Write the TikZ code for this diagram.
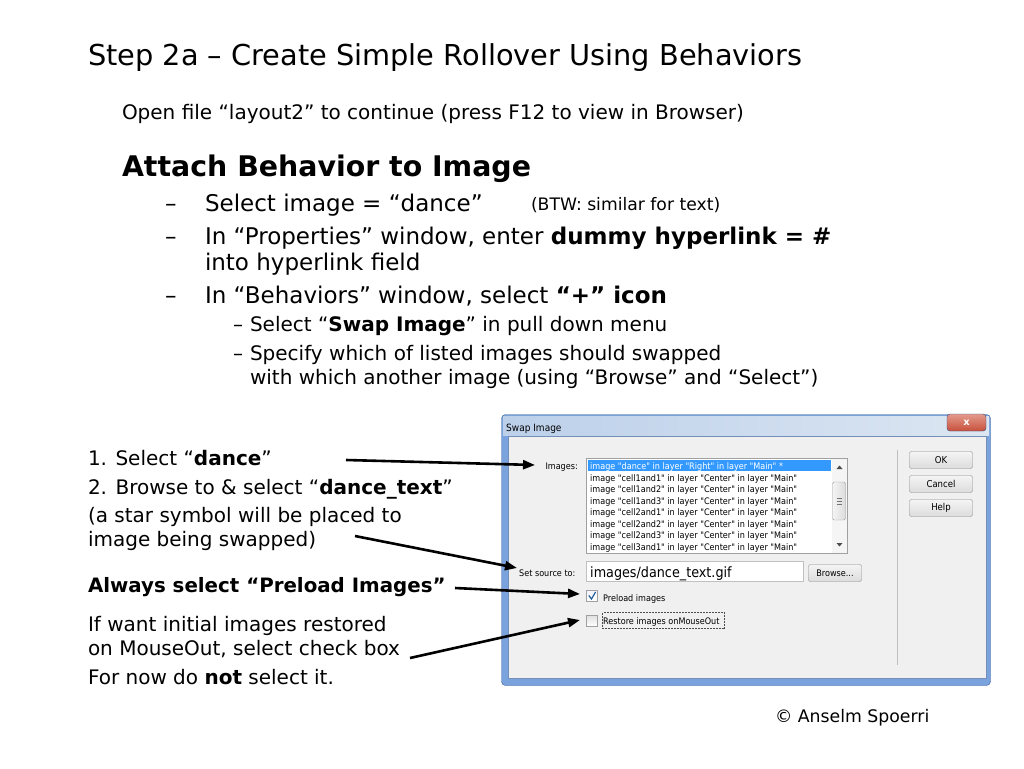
\documentclass[tikz,border=0pt]{standalone}
\usepackage{fontspec}
\setmainfont{DejaVu Sans}
\newfontfamily\condfont{DejaVu Sans Condensed}
\usetikzlibrary{arrows.meta}
\definecolor{framebl}{HTML}{7AA3DD}
\definecolor{frameedge}{HTML}{3A5F9A}
\definecolor{titlel}{HTML}{BCD0EA}
\definecolor{titler}{HTML}{DCE6F2}
\definecolor{clientbg}{HTML}{F0F0F0}
\definecolor{selblue}{HTML}{3399FF}
\definecolor{btnedge}{HTML}{8A8A8A}
\definecolor{btntop}{HTML}{F4F4F4}
\definecolor{btnbot}{HTML}{DCDCDC}
\definecolor{closered}{HTML}{C8503C}
\definecolor{closetop}{HTML}{E49A8C}
\definecolor{boxedge}{HTML}{A0A0A0}
\tikzset{
  txt/.style={anchor=base west, inner sep=0pt, outer sep=0pt},
  arr/.style={line width=2.6pt, -{Triangle[length=12pt,width=9pt]}},
  dlgtxt/.style={anchor=base west, inner sep=0pt, font=\condfont\fontsize{9}{10}\selectfont},
  dlgbtn/.style={draw=btnedge, rounded corners=2pt, top color=btntop, bottom color=btnbot},
  listrow/.style={anchor=base west, inner sep=0pt, font=\condfont\fontsize{9}{10}\selectfont},
}
\begin{document}
\begin{tikzpicture}[x=1pt,y=-1pt]
\useasboundingbox (0,0) rectangle (1024,768);
\fill[white] (0,0) rectangle (1024,768);

% ---------- slide text ----------
\node[txt, font=\fontsize{28.8}{32}\selectfont] (title) at (88,66) {Step 2a – Create Simple Rollover Using Behaviors};
\node[txt, font=\fontsize{20}{24}\selectfont] (open) at (122,119) {Open file “layout2” to continue (press F12 to view in Browser)};
\node[txt, font=\bfseries\fontsize{28.4}{32}\selectfont] (attach) at (122,176) {Attach Behavior to Image};

\begin{scope}[font=\fontsize{23}{27}\selectfont]
\node[txt] (d1) at (165,211) {–};
\node[txt] (b1) at (205,211) {Select image = “dance”};
\node[txt] (d2) at (165,244) {–};
\node[txt] (b2) at (205,244) {In “Properties” window, enter \textbf{dummy hyperlink = \#}};
\node[txt] (b2b) at (205,270) {into hyperlink field};
\node[txt] (d3) at (165,303) {–};
\node[txt] (b3) at (205,303) {In “Behaviors” window, select \textbf{“+” icon}};
\end{scope}
\node[txt, font=\fontsize{17.2}{20}\selectfont] (btw) at (531,210) {(BTW: similar for text)};
\begin{scope}[font=\fontsize{20}{24}\selectfont]
\node[txt] (s1d) at (233,331) {–};
\node[txt] (s1) at (250,331) {Select “\textbf{Swap Image}” in pull down menu};
\node[txt] (s2d) at (233,360) {–};
\node[txt] (s2) at (250,360) {Specify which of listed images should swapped};
\node[txt] (s2b) at (250,384) {with which another image (using “Browse” and “Select”)};
\end{scope}

\begin{scope}[font=\fontsize{20}{24}\selectfont]
\node[txt] (n1) at (88,465) {1. Select “\textbf{dance}”};
\node[txt] (n2) at (88,494) {2. Browse to \& select “\textbf{dance\_text}”};
\node[txt] (n3) at (88,522) {(a star symbol will be placed to};
\node[txt] (n3b) at (88,546) {image being swapped)};
\node[txt, font=\bfseries\fontsize{19.8}{24}\selectfont] (n4) at (88,592) {Always select “Preload Images”};
\node[txt] (n5) at (88,631) {If want initial images restored};
\node[txt] (n5b) at (88,655) {on MouseOut, select check box};
\node[txt] (n6) at (88,684) {For now do \textbf{not} select it.};
\end{scope}

\node[txt, font=\fontsize{17.3}{20}\selectfont] (copy) at (775,722) {© Anselm Spoerri};

% ---------- dialog ----------
\draw[fill=framebl, draw=frameedge, rounded corners=4pt] (501.5,414.5) rectangle (990.5,685.5);
\shade[left color=titlel, right color=titler] (503,416) rectangle (989,436);
\fill[framebl] (503,436) rectangle (508,684);
\fill[framebl] (986,436) rectangle (989,684);
\draw[fill=clientbg, draw=frameedge!70] (508,436.5) rectangle (986,678);
\node[dlgtxt, font=\condfont\fontsize{10}{12}\selectfont] (dtitle) at (506,431) {Swap Image};
% close button
\draw[draw=frameedge!80!black, rounded corners=3pt, top color=closetop, bottom color=closered] (947,414) rectangle (986,431) node[midway, text=white, font=\bfseries\fontsize{10}{10}\selectfont] (closex) {x};

% images list
\node[dlgtxt, anchor=base east] (imlbl) at (578,469) {Images:};
\draw[fill=white, draw=boxedge] (586.5,458.5) rectangle (847.5,553.5);
\fill[selblue] (588,460) rectangle (831,471);
\node[listrow, text=white] (r1) at (590,469) {image "dance" in layer "Right" in layer "Main" *};
\node[listrow] (r2) at (590,481) {image "cell1and1" in layer "Center" in layer "Main"};
\node[listrow] (r3) at (590,492.5) {image "cell1and2" in layer "Center" in layer "Main"};
\node[listrow] (r4) at (590,504) {image "cell1and3" in layer "Center" in layer "Main"};
\node[listrow] (r5) at (590,515.5) {image "cell2and1" in layer "Center" in layer "Main"};
\node[listrow] (r6) at (590,527) {image "cell2and2" in layer "Center" in layer "Main"};
\node[listrow] (r7) at (590,538.5) {image "cell2and3" in layer "Center" in layer "Main"};
\node[listrow] (r8) at (590,550) {image "cell3and1" in layer "Center" in layer "Main"};
% scrollbar
\fill[clientbg!70!white] (831.5,459) rectangle (847,553);
\fill[black!70] (836.5,469) -- (842.5,469) -- (839.5,465.5) -- cycle;
\fill[black!70] (836.5,543) -- (842.5,543) -- (839.5,546.5) -- cycle;
\draw[draw=boxedge, rounded corners=1.5pt, left color=btntop, right color=btnbot] (832.5,482) rectangle (845.5,520);
\draw[black!55, line width=0.6pt] (836.5,498) -- (841.5,498) (836.5,501) -- (841.5,501) (836.5,504) -- (841.5,504);

% source
\node[dlgtxt] (srclbl) at (519,576) {Set source to:};
\draw[fill=white, draw=clientbg!80!black] (586.5,561.5) rectangle (803.5,581.5);
\node[anchor=base west, inner sep=0pt, font=\condfont\fontsize{14.2}{16}\selectfont] (src) at (590,577) {images/dance\_text.gif};
\draw[dlgbtn] (808.5,564.5) rectangle (861.5,581.5) node[midway, font=\condfont\fontsize{9}{10}\selectfont] (browse) {Browse...};

% check boxes
\draw[draw=boxedge, top color=white!85!blue!30, bottom color=white] (586.5,590.5) rectangle (597.5,601.5);
\draw[selblue!60!black, line width=1.2pt] (588.8,595.5) -- (591.5,599) -- (595.5,592);
\node[dlgtxt] (pre) at (603,601) {Preload images};
\draw[draw=boxedge, top color=black!12, bottom color=white] (586.5,615.5) rectangle (597.5,626.5);
\node[dlgtxt] (rest) at (603,624) {Restore images onMouseOut};
\draw[black!70, densely dotted, line width=0.5pt] (602.5,612.5) rectangle (724.5,628.5);

% separator and buttons
\draw[black!25, line width=0.8pt] (897,450) -- (897,665);
\draw[dlgbtn] (909.5,451.5) rectangle (972.5,468.5) node[midway, font=\condfont\fontsize{9.5}{10}\selectfont] (ok) {OK};
\draw[dlgbtn] (909.5,475.5) rectangle (972.5,492.5) node[midway, font=\condfont\fontsize{9.5}{10}\selectfont] (cancel) {Cancel};
\draw[dlgbtn] (909.5,499.5) rectangle (972.5,516.5) node[midway, font=\condfont\fontsize{9.5}{10}\selectfont] (help) {Help};

% ---------- arrows ----------
\coordinate (a1s) at (346,460);
\coordinate (a1e) at (535,465);
\coordinate (a2s) at (355,536);
\coordinate (a2e) at (517,568);
\coordinate (a3s) at (455,588);
\coordinate (a3e) at (580,594);
\coordinate (a4s) at (410,658);
\coordinate (a4e) at (580,620);
\draw[arr] (a1s) -- (a1e);
\draw[arr] (a2s) -- (a2e);
\draw[arr] (a3s) -- (a3e);
\draw[arr] (a4s) -- (a4e);
\end{tikzpicture}
\end{document}
